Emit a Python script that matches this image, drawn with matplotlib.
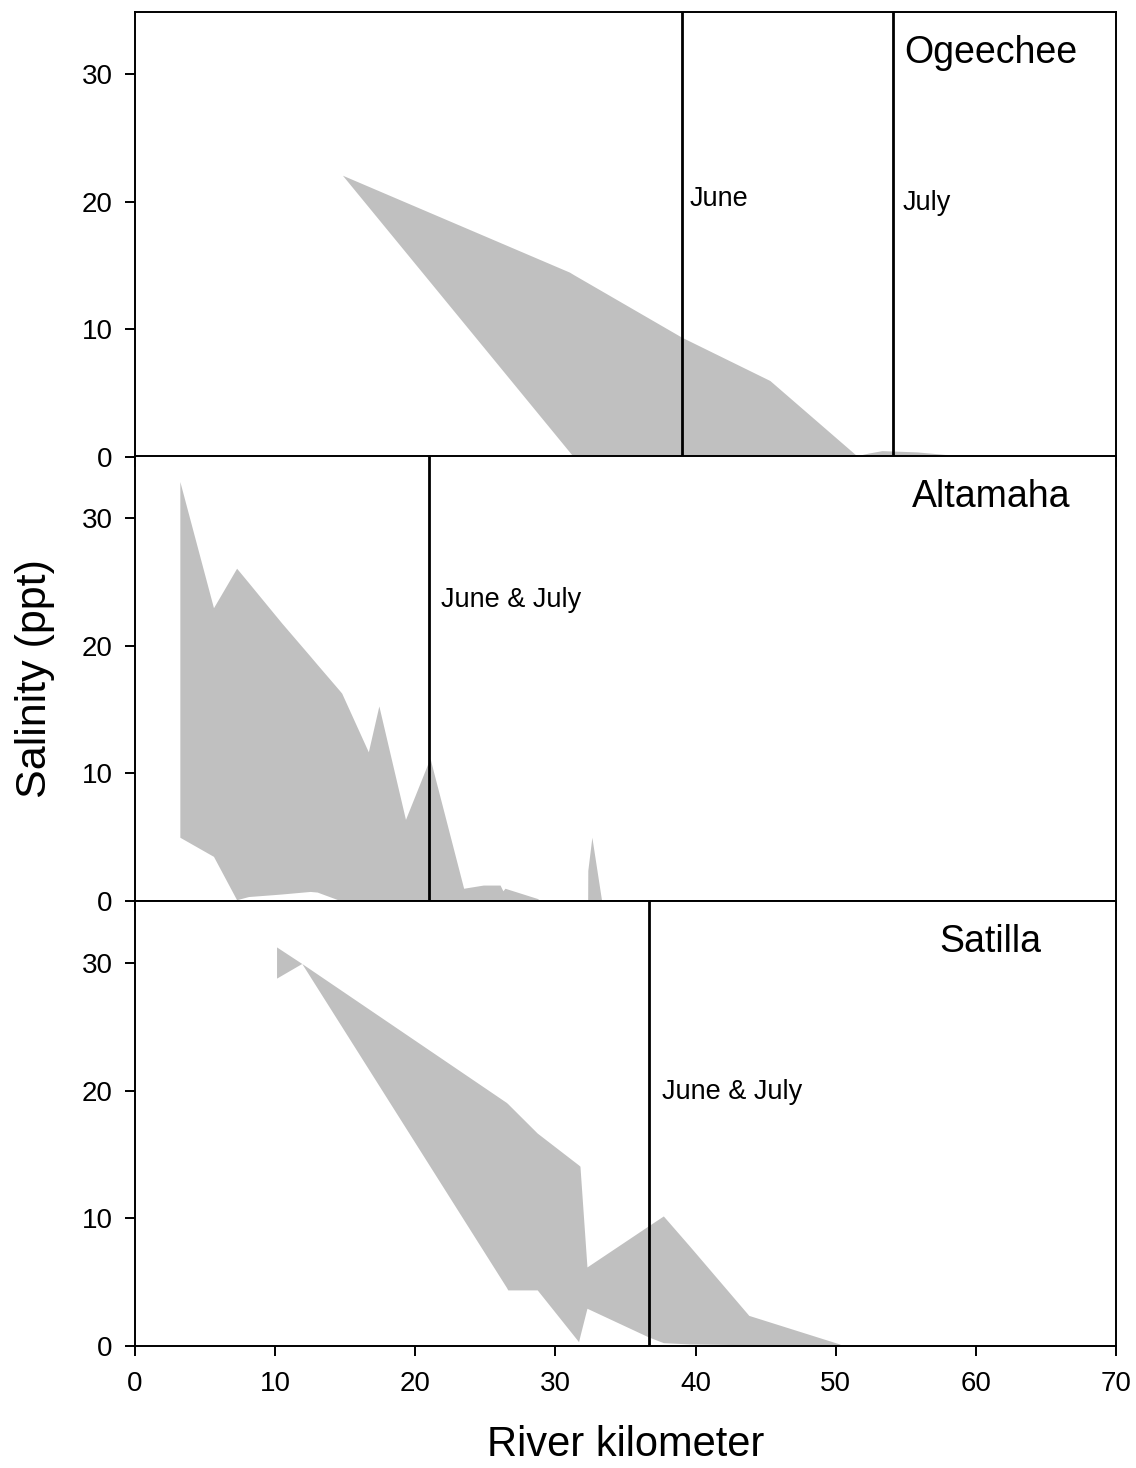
# -*- coding: utf-8 -*-

# Salinity ranges along three Georgia rivers, with sampling limits marked
import matplotlib.pyplot as plt

plt.rcParams['font.family'] = ['Liberation Sans', 'DejaVu Sans']

# Ogeechee: salinity envelope (min / max) by river km
oge_km = [14.8, 31.0, 31.3, 39.0, 45.3, 51.5, 52.3, 53.3, 55.8, 57.8, 62.8]
oge_max = [22.1, 14.5, 14.3, 9.4, 6.0, 0.1, 0.3, 0.5, 0.4, 0.2, 0.1]
oge_min = [22.1, 0.4, 0.0, 0.0, 0.0, 0.0, 0.0, 0.0, 0.0, 0.0, 0.0]
oge_marks = [39.0, 54.1]
oge_labels = ["June", "July"]

# Altamaha
alt_km = [3.2, 5.6, 7.25, 8.1, 9.9, 10.47, 12.5, 13.0, 14.6, 14.75, 16.65,
          17.4, 19.3, 21.05, 23.45, 24.85, 26.05, 26.25, 26.4, 28.7, 29.0,
          32.3, 32.31, 32.6, 33.3]
alt_max = [32.9, 23.0, 26.1, 24.97, 22.56, 21.8, 19.2, 18.55, 16.5, 16.3, 11.7,
           15.3, 6.4, 11.2, 1.0, 1.25, 1.25, 0.8, 1.0, 0.2, 0.0,
           0.0, 2.4, 5.0, 0.0]
alt_min = [5.0, 3.5, 0.1, 0.35, 0.5, 0.55, 0.75, 0.7, 0.05, 0.0, 0.0,
           0.0, 0.0, 0.0, 0.0, 0.0, 0.0, 0.0, 0.0, 0.0, 0.0,
           0.0, 0.0, 0.0, 0.0]
alt_marks = [21.0]
alt_labels = ["June & July"]

# Satilla
sat_km = [10.1, 11.9, 26.5, 26.6, 28.7, 31.65, 31.75, 32.25, 36.6, 37.7,
          39.6, 43.8, 50.3]
sat_max = [31.3, 30.0, 19.1, 19.0, 16.7, 14.2, 14.1, 6.2, 9.4, 10.2,
           7.8, 2.4, 0.15]
sat_min = [28.85, 30.0, 4.6, 4.4, 4.4, 0.34, 0.8, 2.96, 0.73, 0.26,
           0.16, 0.1, 0.1]
sat_marks = [36.7]
sat_labels = ["June & July"]

rivers = ["Ogeechee", "Altamaha", "Satilla"]

panels = [
    (oge_km, oge_min, oge_max, oge_marks, oge_labels, [(39.6, 20.2), (54.8, 19.9)], (54.9, 31.65)),
    (alt_km, alt_min, alt_max, alt_marks, alt_labels, [(21.8, 23.6)], (55.45, 31.7)),
    (sat_km, sat_min, sat_max, sat_marks, sat_labels, [(37.6, 19.95)], (57.4, 31.7)),
]

fig = plt.figure(figsize=(11.36, 14.68), dpi=100)

left, width = 135 / 1136, 981 / 1136
tops = [12, 456, 901]
h = 445 / 1468

for i, (km, lo, hi, marks, labels, label_pos, name_pos) in enumerate(panels):
    bottom = 1 - tops[i] / 1468 - h
    ax = fig.add_axes([left, bottom, width, h])
    ax.fill_between(km, lo, hi, color="#c0c0c0", linewidth=0)
    for m, lab, (tx, ty) in zip(marks, labels, label_pos):
        ax.axvline(m, color="black", linewidth=2.0)
        ax.text(tx, ty, lab, fontsize=19.5, ha="left", va="center")
    ax.text(name_pos[0], name_pos[1], rivers[i], fontsize=27, ha="left", va="center")

    ax.set_xlim(0, 70)
    ax.set_ylim(0, 34.9)
    ax.set_xticks(range(0, 71, 10))
    ax.set_yticks([0, 10, 20, 30])
    ax.tick_params(direction="out", length=7, width=1.4, labelsize=20)
    ax.tick_params(axis="x", pad=11)
    ax.tick_params(axis="y", pad=9)
    if i < 2:
        ax.tick_params(axis="x", labelbottom=False)
    for s in ax.spines.values():
        s.set_linewidth(1.4)

fig.text(35 / 1136, 1 - 679 / 1468, "Salinity (ppt)", fontsize=31,
         rotation=90, ha="center", va="center")
fig.text(626 / 1136, 1 - 1445 / 1468, "River kilometer", fontsize=30,
         ha="center", va="center")

fig.savefig("out.png", dpi=100)
